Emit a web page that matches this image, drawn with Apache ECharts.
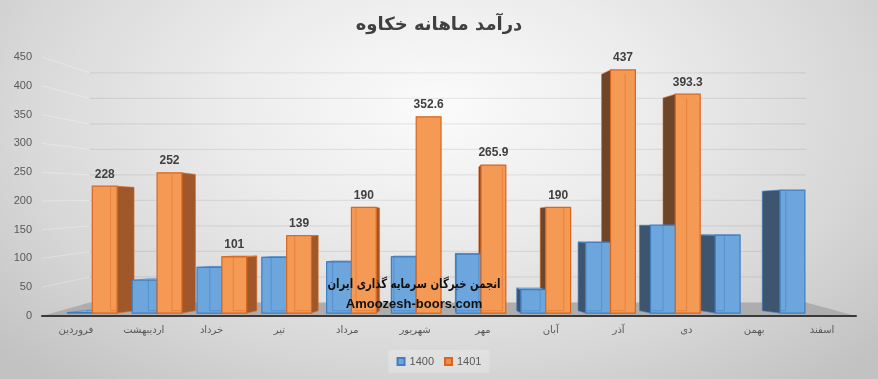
<!DOCTYPE html>
<html>
<head>
<meta charset="utf-8">
<script src="https://cdn.jsdelivr.net/npm/echarts@6/dist/echarts.min.js"></script>
<style>
html,body{margin:0;padding:0;}
#chart{width:878px;height:379px;background:radial-gradient(ellipse 68% 95% at 50% 28%, #fbfbfb 0%, #ececec 35%, #d8d8d8 70%, #c2c2c2 100%);}
</style>
</head>
<body>
<div id="chart"></div>
<script>
const categories = ['فروردین','اردیبهشت','خرداد','تیر','مرداد','شهریور','مهر','آبان','آذر','دی','بهمن','اسفند'];
const values1400 = [1, 59, 82, 100, 92, 101, 106, 42, 127, 158, 140, 221];
const values1401 = [228, 252, 101, 139, 190, 352.6, 265.9, 190, 437, 393.3, null, null];
const yTicks = [0, 50, 100, 150, 200, 250, 300, 350, 400, 450];
const seriesNames = ['1400', '1401'];
const titleText = 'درآمد ماهانه خکاوه';
const watermark1 = 'انجمن خبرگان سرمایه گذاری ایران';
const watermark2 = 'Amoozesh-boors.com';

// perspective parameters (style)
const CX = 440, CYB = 228, SFX = 0.955, SFY = 0.967, SBX = 0.905, SBY = 0.94;
const CYW = 197, WX = 0.88, WY = 0.886;
const BW = 26;

function pf(x, y) { return [CX + (x - CX) * SFX, CYB + (y - CYB) * SFY]; }
function pb(x, y) { return [CX + (x - CX) * SBX, CYB + (y - CYB) * SBY]; }
function pw(x, y) { return [CX + (x - CX) * WX, CYW + (y - CYW) * WY]; }

const styles = {
  blue: {front: '#6CA6DC', border: '#3F7FC2', top: '#86B6E3', rside: '#4E7FB0', lside: '#3D556E', inner: 'rgba(60,120,190,0.45)'},
  orange: {front: '#F49A55', border: '#D8661E', top: '#F8B07A', rside: '#A0582B', lside: '#6D452A', inner: 'rgba(220,110,40,0.5)'}
};

function makeBarRender(st, offset, withLabel) {
  return function (params, api) {
    const i = api.value(0), v = api.value(1);
    if (v === null || isNaN(v)) return null;
    const base = api.coord([i, 0]);
    const top = api.coord([i, v]);
    const x0 = base[0] + offset, x1 = x0 + BW;
    const yb = base[1], yt = top[1];
    const children = [];
    const F = [pf(x0, yt), pf(x1, yt), pf(x1, yb), pf(x0, yb)];
    const B = [pb(x0, yt), pb(x1, yt), pb(x1, yb), pb(x0, yb)];
    if (x1 < CX) {
      children.push({type: 'polygon', z2: 1, shape: {points: [F[1], B[1], B[2], F[2]]}, style: {fill: st.rside, stroke: st.border, lineWidth: 0.6}});
    } else if (x0 > CX) {
      children.push({type: 'polygon', z2: 1, shape: {points: [F[0], B[0], B[3], F[3]]}, style: {fill: st.lside, stroke: st.border, lineWidth: 0.6}});
    }
    if (F[0][1] > B[0][1]) {
      children.push({type: 'polygon', z2: 2, shape: {points: [F[0], F[1], B[1], B[0]]}, style: {fill: st.top, stroke: st.border, lineWidth: 0.6}});
    }
    children.push({type: 'polygon', z2: 5, shape: {points: F}, style: {fill: st.front, stroke: st.border, lineWidth: 1.2}});
    const ie = (x1 < CX) ? 0 : 1;
    const bx = B[ie][0];
    if (bx > F[0][0] + 1 && bx < F[1][0] - 1) {
      children.push({type: 'polyline', z2: 6, shape: {points: [[bx, Math.max(B[ie][1], F[0][1])], [bx, B[ie === 0 ? 3 : 2][1]], [ie === 0 ? F[1][0] - 1 : F[0][0] + 1, B[3][1]]]}, style: {stroke: st.inner, lineWidth: 1, fill: null}});
    }
    if (withLabel) {
      children.push({type: 'text', z2: 8, style: {text: String(v), x: (F[0][0] + F[1][0]) / 2, y: F[0][1] - 6, textAlign: 'center', textVerticalAlign: 'bottom', font: 'bold 12px "Liberation Sans", Arial, sans-serif', fill: '#404040'}});
    }
    return {type: 'group', children: children};
  };
}

function wallRender(params, api) {
  const v = api.value(0);
  const cs = params.coordSys;
  const xl = cs.x, xr = cs.x + cs.width;
  const y = api.coord([0, v])[1];
  const children = [];
  if (v === 0) {
    children.push({type: 'polygon', z2: 0, shape: {points: [[xl, y], [xr, y], pw(xr, y), pw(xl, y)]}, style: {fill: '#adadad'}});
  } else {
    const a = pw(xl, y), b = pw(xr, y);
    children.push({type: 'line', z2: 1, shape: {x1: a[0], y1: a[1], x2: b[0], y2: b[1]}, style: {stroke: 'rgba(0,0,0,0.07)', lineWidth: 1.2}});
    children.push({type: 'line', z2: 1, shape: {x1: xl, y1: y, x2: a[0], y2: a[1]}, style: {stroke: 'rgba(255,255,255,0.3)', lineWidth: 1}});
  }
  return {type: 'group', children: children};
}

const chart = echarts.init(document.getElementById('chart'));
chart.setOption({
  animation: false,
  backgroundColor: 'transparent',
  title: {text: titleText, left: 'center', top: 11, textStyle: {fontFamily: 'DejaVu Sans', fontSize: 18, fontWeight: 'bold', color: '#404040'}},
  legend: {
    data: seriesNames.map(function (n) { return {name: n, icon: 'rect'}; }),
    bottom: 6, left: 'center', itemWidth: 7, itemHeight: 7, itemGap: 10,
    backgroundColor: 'rgba(255,255,255,0.22)', padding: [6, 8],
    textStyle: {color: '#595959', fontSize: 11, fontFamily: 'Liberation Sans'}
  },
  grid: {left: 42, right: 22, top: 57, bottom: 63},
  xAxis: {
    type: 'category', data: categories, z: 5,
    axisLine: {lineStyle: {color: '#3a3a3a', width: 2}},
    axisTick: {show: false},
    axisLabel: {color: '#595959', fontSize: 10, fontFamily: 'DejaVu Sans', margin: 9, interval: 0}
  },
  yAxis: {
    type: 'value', min: 0, max: 450, interval: 50,
    splitLine: {show: false}, axisLine: {show: false}, axisTick: {show: false},
    axisLabel: {color: '#595959', fontSize: 11, fontFamily: 'Liberation Sans', margin: 10}
  },
  series: [
    {type: 'custom', name: 'walls', z: 1, silent: true, renderItem: wallRender, data: yTicks.map(function (t) { return [t]; }), encode: {y: 0}},
    {type: 'custom', name: seriesNames[0], z: 2, itemStyle: {color: styles.blue.front, borderColor: styles.blue.border, borderWidth: 1}, renderItem: makeBarRender(styles.blue, -BW, false), data: values1400.map(function (v, i) { return [i, v]; })},
    {type: 'custom', name: seriesNames[1], z: 2, itemStyle: {color: '#F08A45', borderColor: styles.orange.border, borderWidth: 1}, renderItem: makeBarRender(styles.orange, 0, true), data: values1401.map(function (v, i) { return [i, v === null ? '-' : v]; })}
  ],
  graphic: [
    {type: 'text', z: 100, x: 414, y: 285, scaleX: 0.78, style: {text: watermark1, textAlign: 'center', textVerticalAlign: 'middle', font: 'bold 13px "DejaVu Sans"', fill: '#111'}},
    {type: 'text', z: 100, x: 414, y: 304, style: {text: watermark2, textAlign: 'center', textVerticalAlign: 'middle', font: 'bold 13px "Liberation Sans", Arial', fill: '#111'}}
  ]
});
</script>
</body>
</html>
